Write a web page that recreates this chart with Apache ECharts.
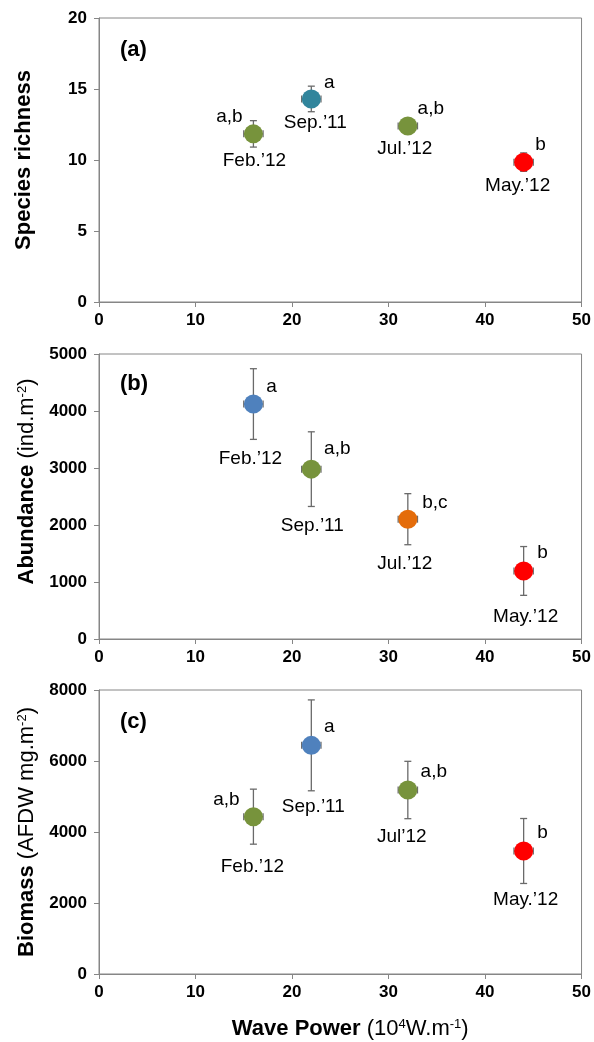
<!DOCTYPE html>
<html>
<head>
<meta charset="utf-8">
<script src="https://cdn.jsdelivr.net/npm/echarts@6/dist/echarts.min.js"></script>
<style>html,body{margin:0;padding:0;background:#fff}#c{width:594px;height:1042px}</style>
</head>
<body>
<div id="c"></div>
<script>
// ---------- DATA ----------
const wavePower = [16, 22, 32, 44];
const wavePowerErr = [1, 1, 1, 1];

const monthsA = ["Feb.’12", "Sep.’11", "Jul.’12", "May.’12"];
const richness = [11.84, 14.3, 12.4, 9.85];
const richnessErr = [0.93, 0.9, 0.45, 0.65];
const lettersA = ["a,b", "a", "a,b", "b"];

const monthsB = ["Feb.’12", "Sep.’11", "Jul.’12", "May.’12"];
const abundance = [4122, 2980, 2102, 1194];
const abundanceErr = [620, 655, 448, 428];
const lettersB = ["a", "a,b", "b,c", "b"];

const monthsC = ["Feb.’12", "Sep.’11", "Jul’12", "May.’12"];
const biomass = [4432, 6441, 5183, 3465];
const biomassErr = [775, 1280, 808, 915];
const lettersC = ["a,b", "a", "a,b", "b"];

const xTicks = [0, 10, 20, 30, 40, 50];

// ---------- STYLE / LAYOUT ----------
const GREEN = '#77933C', TEAL = '#31859C', BLUE = '#4F81BD', ORANGE = '#E46C0A', RED = '#FF0000';
const colorsA = [GREEN, TEAL, GREEN, RED];
const colorsB = [BLUE, GREEN, ORANGE, RED];
const colorsC = [GREEN, BLUE, GREEN, RED];
// label offsets [letterDx, letterDy, monthDx, monthDy]
const offA = [[-24, -17, 1, 27], [18, -16, 4, 24], [23, -17, -3, 23], [17, -17, -6, 24]];
const offB = [[18, -17, -3, 55], [26, -20, 1, 57], [27, -16, -3, 45], [19, -18, 2, 46]];
const offC = [[-27, -17, -1, 50], [18, -19, 2, 61], [26, -18, -6, 47], [19, -18, 2, 49]];

const FONT = '"Liberation Sans", Arial, sans-serif';
const AXIS_COLOR = '#868686';

const chart = echarts.init(document.getElementById('c'), null, {renderer: 'canvas'});

const grids = [
  {left: 99, right: 11, top: 18, height: 284},
  {left: 99, right: 11, top: 354, height: 285},
  {left: 99, right: 11, top: 690, height: 284}
];

const plainNum = (v) => String(v);

function xAxisCfg(i, withName) {
  const cfg = {
    type: 'value', gridIndex: i, min: xTicks[0], max: xTicks[xTicks.length - 1], interval: 10,
    axisLine: {show: true, lineStyle: {color: AXIS_COLOR, width: 1}},
    axisTick: {show: true, inside: false, length: 5, lineStyle: {color: AXIS_COLOR}},
    axisLabel: {color: '#000', fontWeight: 'bold', fontSize: 17, fontFamily: FONT, margin: 10, formatter: plainNum},
    splitLine: {show: false}
  };
  if (withName) {
    cfg.name = '{b|Wave Power}{n| (10}{s|4}{n|W.m}{s|-1}{n|)}';
    cfg.nameLocation = 'middle';
    cfg.nameGap = 44;
    cfg.nameTextStyle = {
      padding: [0, 0, 0, 20],
      rich: {
        b: {fontWeight: 'bold', fontSize: 22, fontFamily: FONT, color: '#000'},
        n: {fontSize: 22, fontFamily: FONT, color: '#000'},
        s: {fontSize: 13, fontFamily: FONT, color: '#000', verticalAlign: 'top', padding: [0, 0, 9, 0]}
      }
    };
  }
  return cfg;
}

function yAxisCfg(i, max, interval, name, gap, pad) {
  return {
    type: 'value', gridIndex: i, min: 0, max: max, interval: interval,
    name: name, nameLocation: 'middle', nameGap: gap,
    nameTextStyle: {
      padding: pad,
      rich: {
        b: {fontWeight: 'bold', fontSize: 22, fontFamily: FONT, color: '#000'},
        n: {fontSize: 22, fontFamily: FONT, color: '#000'},
        s: {fontSize: 13, fontFamily: FONT, color: '#000', verticalAlign: 'top', padding: [0, 0, 9, 0]}
      }
    },
    axisLine: {show: true, lineStyle: {color: AXIS_COLOR, width: 1}},
    axisTick: {show: true, inside: false, length: 5, lineStyle: {color: AXIS_COLOR}},
    axisLabel: {color: '#000', fontWeight: 'bold', fontSize: 17, fontFamily: FONT, margin: 12, formatter: plainNum},
    splitLine: {show: false}
  };
}

function errRender(yErrArr) {
  return function (params, api) {
    const i = params.dataIndex;
    const x = api.value(0), y = api.value(1);
    const ex = wavePowerErr[i], ey = yErrArr[i];
    const t = api.coord([x, y + ey]), b = api.coord([x, y - ey]);
    const l = api.coord([x - ex, y]), r = api.coord([x + ex, y]);
    const cap = 3.5;
    const st = {stroke: '#6a6a6a', lineWidth: 1.3};
    return {
      type: 'group',
      children: [
        {type: 'line', shape: {x1: t[0], y1: t[1], x2: b[0], y2: b[1]}, style: st},
        {type: 'line', shape: {x1: t[0] - cap, y1: t[1], x2: t[0] + cap, y2: t[1]}, style: st},
        {type: 'line', shape: {x1: b[0] - cap, y1: b[1], x2: b[0] + cap, y2: b[1]}, style: st},
        {type: 'line', shape: {x1: l[0], y1: l[1], x2: r[0], y2: r[1]}, style: st},
        {type: 'line', shape: {x1: l[0], y1: l[1] - cap, x2: l[0], y2: l[1] + cap}, style: st},
        {type: 'line', shape: {x1: r[0], y1: r[1] - cap, x2: r[0], y2: r[1] + cap}, style: st}
      ]
    };
  };
}

function labelRender(letters, months, offs) {
  return function (params, api) {
    const i = params.dataIndex;
    const c = api.coord([api.value(0), api.value(1)]);
    const o = offs[i];
    const ts = {fill: '#000', fontSize: 19, fontFamily: FONT, align: 'center', verticalAlign: 'middle'};
    return {
      type: 'group',
      children: [
        {type: 'text', x: c[0] + o[0], y: c[1] + o[1], style: Object.assign({text: letters[i]}, ts)},
        {type: 'text', x: c[0] + o[2], y: c[1] + o[3], style: Object.assign({text: months[i]}, ts)}
      ]
    };
  };
}

function panelSeries(i, yVals, yErr, colors, letters, months, offs) {
  const data = wavePower.map((x, k) => [x, yVals[k]]);
  return [
    {type: 'custom', xAxisIndex: i, yAxisIndex: i, data: data, encode: {x: 0, y: 1},
     renderItem: errRender(yErr), z: 2, clip: false, silent: true},
    {type: 'scatter', xAxisIndex: i, yAxisIndex: i, data: data, symbol: 'circle', symbolSize: 19,
     itemStyle: {color: (p) => colors[p.dataIndex], opacity: 1}, z: 3, silent: true},
    {type: 'custom', xAxisIndex: i, yAxisIndex: i, data: data, encode: {x: 0, y: 1},
     renderItem: labelRender(letters, months, offs), z: 4, clip: false, silent: true}
  ];
}

const option = {
  animation: false,
  backgroundColor: '#fff',
  title: [
    {text: '(a)', left: 120, top: 39, textStyle: {fontWeight: 'bold', fontSize: 22, fontFamily: FONT, color: '#000'}},
    {text: '(b)', left: 120, top: 373, textStyle: {fontWeight: 'bold', fontSize: 22, fontFamily: FONT, color: '#000'}},
    {text: '(c)', left: 120, top: 711, textStyle: {fontWeight: 'bold', fontSize: 22, fontFamily: FONT, color: '#000'}}
  ].map(t => Object.assign(t, {padding: 0})),
  grid: grids.map(g => Object.assign({show: true, borderColor: AXIS_COLOR, borderWidth: 1, backgroundColor: 'transparent'}, g)),
  xAxis: [xAxisCfg(0, false), xAxisCfg(1, false), xAxisCfg(2, true)],
  yAxis: [
    yAxisCfg(0, 20, 5, '{b|Species richness}', 64, 0),
    yAxisCfg(1, 5000, 1000, '{b|Abundance}{n| (ind.m}{s|-2}{n|)}', 60, [0, 0, 0, 30]),
    yAxisCfg(2, 8000, 2000, '{b|Biomass}{n| (AFDW mg.m}{s|-2}{n|)}', 60, 0)
  ],
  series: [].concat(
    panelSeries(0, richness, richnessErr, colorsA, lettersA, monthsA, offA),
    panelSeries(1, abundance, abundanceErr, colorsB, lettersB, monthsB, offB),
    panelSeries(2, biomass, biomassErr, colorsC, lettersC, monthsC, offC)
  )
};
chart.setOption(option);
</script>
</body>
</html>
